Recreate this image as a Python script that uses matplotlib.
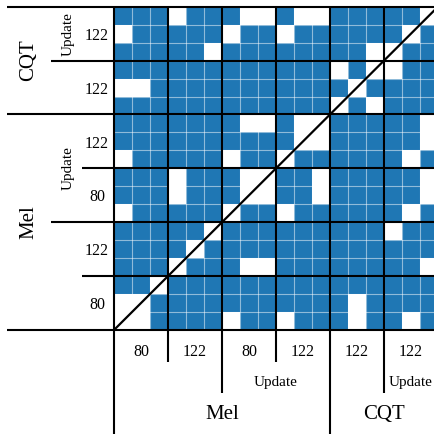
#! /usr/bin/env python3

import numpy as np
import matplotlib
matplotlib.use('Agg')
import matplotlib.pyplot as plt
from matplotlib.colors import ListedColormap

plt.rcParams.update({'font.family': 'Liberation Serif', 'font.size': 11})

# column order (left to right); rows use the reverse order (top to bottom)
features = ['Mel', 'Mel', 'Mel', 'Mel', 'CQT', 'CQT']
updates = [False, False, True, True, False, True]
resolutions = ['80', '122', '80', '122', '122', '122']

# 1 = blue, 0 = white, rows top to bottom
cells = [
    [1, 1, 1, 0, 1, 1, 1, 0, 0, 1, 0, 0, 1, 1, 1, 1, 1, 0],
    [0, 1, 1, 1, 1, 1, 0, 1, 1, 0, 1, 1, 1, 1, 1, 1, 0, 1],
    [1, 1, 1, 1, 1, 0, 1, 1, 1, 1, 1, 1, 1, 1, 0, 0, 1, 1],
    [1, 1, 1, 1, 1, 1, 1, 1, 1, 1, 1, 1, 0, 1, 0, 0, 1, 1],
    [0, 0, 1, 1, 1, 1, 1, 1, 1, 1, 1, 1, 1, 0, 1, 1, 1, 1],
    [1, 1, 1, 1, 1, 1, 1, 1, 1, 1, 1, 1, 0, 1, 0, 1, 1, 1],
    [1, 1, 1, 1, 1, 1, 1, 0, 0, 1, 0, 0, 1, 1, 1, 1, 1, 0],
    [1, 1, 1, 1, 1, 1, 1, 1, 1, 1, 0, 0, 1, 1, 1, 1, 1, 0],
    [0, 1, 1, 1, 1, 1, 0, 1, 1, 0, 1, 1, 1, 1, 1, 1, 0, 1],
    [1, 1, 1, 0, 1, 1, 1, 0, 0, 1, 1, 0, 1, 1, 1, 1, 1, 0],
    [1, 1, 1, 0, 1, 1, 1, 0, 0, 1, 1, 0, 1, 1, 1, 1, 1, 0],
    [0, 1, 1, 1, 1, 1, 0, 1, 1, 0, 1, 1, 1, 1, 1, 1, 0, 1],
    [1, 1, 1, 1, 1, 0, 1, 1, 1, 1, 1, 1, 1, 1, 1, 0, 1, 1],
    [1, 1, 1, 1, 0, 1, 1, 1, 1, 1, 1, 1, 1, 1, 1, 1, 1, 1],
    [1, 1, 1, 0, 1, 1, 1, 0, 0, 1, 1, 1, 1, 1, 1, 1, 1, 0],
    [1, 1, 0, 1, 1, 1, 1, 1, 1, 1, 1, 1, 1, 1, 1, 1, 1, 1],
    [0, 0, 1, 1, 1, 1, 1, 1, 1, 1, 1, 1, 1, 0, 1, 1, 1, 1],
    [0, 0, 1, 1, 1, 1, 0, 1, 1, 0, 1, 1, 1, 0, 1, 1, 0, 1],
]

M = np.array(cells)
n = M.shape[0]
bs = n // len(features)  # block size (3)
nb = len(features)

fig = plt.figure(figsize=(4.35, 4.34), dpi=100)
ax = fig.add_axes([0, 0, 1, 1])
ax.pcolormesh(np.arange(n+1), np.arange(n+1), M,
              cmap=ListedColormap(['white', '#1f77b4']), vmin=0, vmax=1)

# thin cell grid
for k in range(1, n):
    ax.plot([k, k], [0, n], color='white', alpha=0.5, lw=0.8)
    ax.plot([0, n], [k, k], color='white', alpha=0.5, lw=0.8)


def level(i):
    # how far a block separator sticks out: 1 = feature, 2 = update, 3 = resolution
    if i == 0 or i == nb or features[i] != features[i-1]:
        return 1
    if updates[i] != updates[i-1]:
        return 2
    return 3


ext = {1: 5.94, 2: 3.5, 3: 1.8}
for i in range(nb+1):
    lv = level(i)
    # vertical (column separators), going down below the grid
    down = 6.5 if lv == 1 else ext[lv]
    ax.plot([i*bs, i*bs], [0, n+down], 'k', lw=1.5, solid_capstyle='butt')
    # horizontal (row separators, reversed order), going left
    j = nb - i
    ax.plot([-ext[lv], n], [j*bs, j*bs], 'k', lw=1.5, solid_capstyle='butt')

ax.plot([0, n], [n, 0], 'k', lw=1.6)

# labels
for i in range(nb):
    c = i*bs + bs/2
    r = (nb-1-i)*bs + bs/2
    ax.text(c, 19.2, resolutions[i], ha='center', va='center', fontsize=11.5)
    ax.text(-0.95, r + 0.12, resolutions[i], ha='center', va='center', fontsize=11.5)


def runs(keys):
    out = []
    start = 0
    for i in range(1, len(keys)+1):
        if i == len(keys) or keys[i] != keys[start]:
            out.append((keys[start], start, i))
            start = i
    return out


for (f, u), a, b in runs(list(zip(features, updates))):
    if u:
        c = (a+b)/2*bs
        ax.text(c, 20.9, 'Update', ha='center', va='center', fontsize=11)
        ax.text(-2.56, n-c, 'Update', ha='center', va='center',
                rotation=90, fontsize=11)

for f, a, b in runs(features):
    c = (a+b)/2*bs
    ax.text(c, 22.7, f, ha='center', va='center', fontsize=15)
    ax.text(-4.72, n-c, f, ha='center', va='center', rotation=90, fontsize=15)

ax.set_xlim(-114/18, (435-114)/18)
ax.set_ylim((434-6.7)/17.96, -6.7/17.96)
ax.axis('off')

plt.savefig('out.png', dpi=100)
